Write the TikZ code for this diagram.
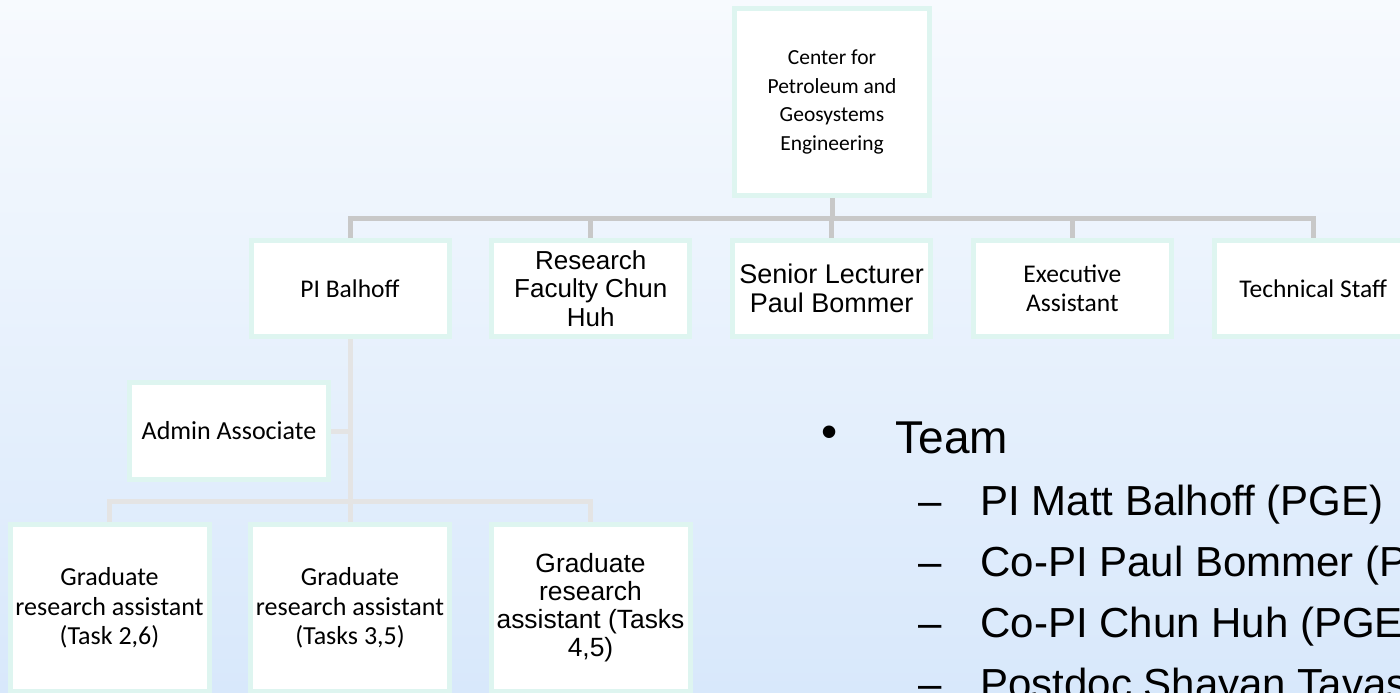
\documentclass[tikz,border=0pt]{standalone}
\usepackage{fontspec}
\setmainfont{Carlito}
\newfontfamily\arialfont{Liberation Sans}
\usetikzlibrary{positioning}

\definecolor{boxedge}{RGB}{222,245,240}
\definecolor{hiwire}{RGB}{200,200,200}
\definecolor{lowire}{RGB}{228,228,228}
\definecolor{bgtop}{RGB}{247,250,254}
\definecolor{bgbottom}{RGB}{216,232,251}

\begin{document}
\begin{tikzpicture}[x=0.5pt,y=-0.5pt,on grid,
  orgbox/.style={draw=boxedge,line width=2.5pt,fill=white,align=center,inner sep=0pt,
    minimum width=99pt,minimum height=48pt,font=\fontsize{12.75}{14.5}\selectfont},
  arialbox/.style={orgbox,font=\arialfont\fontsize{13}{14.25}\selectfont},
  gradbox/.style={orgbox,minimum width=99.5pt,minimum height=83.5pt,font=\fontsize{13}{14.75}\selectfont},
  hiline/.style={draw=hiwire,line width=2.5pt},
  loline/.style={draw=lowire,line width=2.5pt},
  bigtext/.style={inner sep=0pt,font=\arialfont\fontsize{23}{27}\selectfont},
  itemtext/.style={anchor=base west,inner sep=0pt,font=\arialfont\fontsize{21}{25}\selectfont}]
\useasboundingbox (0,0) rectangle (1400,692);
\fill[top color=bgtop,bottom color=bgbottom] (0,0) rectangle (1400,692);

\node[orgbox,minimum width=97.5pt,minimum height=93.5pt,font=\fontsize{10.75}{14.3}\selectfont] (cpge) at (832,102) {Center for\\Petroleum and\\Geosystems\\Engineering};

\node[orgbox] (pi) at (350,288.5) {PI Balhoff};
\node[arialbox,right=120.4pt of pi] (rfac) {Research\\Faculty Chun\\Huh};
\node[arialbox,right=120.4pt of rfac,font=\arialfont\fontsize{13.5}{14.5}\selectfont] (slec) {Senior Lecturer\\Paul Bommer};
\node[orgbox,right=120.4pt of slec] (exec) {Executive\\Assistant};
\node[orgbox,right=120.4pt of exec] (tech) {Technical Staff};

\node[orgbox,minimum width=99.5pt,minimum height=48.5pt,font=\fontsize{13}{15}\selectfont] (admin) at (229,431) {Admin Associate};

\node[gradbox] (gra) at (109.5,608) {Graduate\\research assistant\\(Task 2,6)};
\node[gradbox,right=120.25pt of gra] (grb) {Graduate\\research assistant\\(Tasks 3,5)};
\node[gradbox,right=120.25pt of grb,font=\arialfont\fontsize{13.2}{14}\selectfont] (grc) {Graduate\\research\\assistant (Tasks\\4,5)};

\coordinate (topbus) at (832,218);
\coordinate (lowbus) at (350,501);
\draw[hiline] (cpge.south) -- (cpge.south |- topbus);
\draw[hiline] (pi.north) -- (pi.north |- topbus) -- (tech.north |- topbus) -- (tech.north);
\draw[hiline] (rfac.north) -- (rfac.north |- topbus);
\draw[hiline] (slec.north) -- (slec.north |- topbus);
\draw[hiline] (exec.north) -- (exec.north |- topbus);
\draw[loline] (pi.south) -- (pi.south |- lowbus);
\draw[loline] (admin.east) -- (admin.east -| pi.south);
\draw[loline] (gra.north) -- (gra.north |- lowbus) -- (grc.north |- lowbus) -- (grc.north);
\draw[loline] (grb.north) -- (grb.north |- lowbus);

\node[bigtext] (dot) at (830,437) {•};
\node[bigtext,anchor=base west] (team) at (895,453) {Team};
\foreach \txt [count=\i] in {{PI Matt Balhoff (PGE)},{Co-PI Paul Bommer (P},{Co-PI Chun Huh (PGE},{Postdoc Shayan Tavas}}
{
  \node[itemtext] (dash\i) at (918,{515+61*(\i-1)}) {–};
  \node[itemtext] (item\i) at (980,{515+61*(\i-1)}) {\txt};
}
\end{tikzpicture}
\end{document}
